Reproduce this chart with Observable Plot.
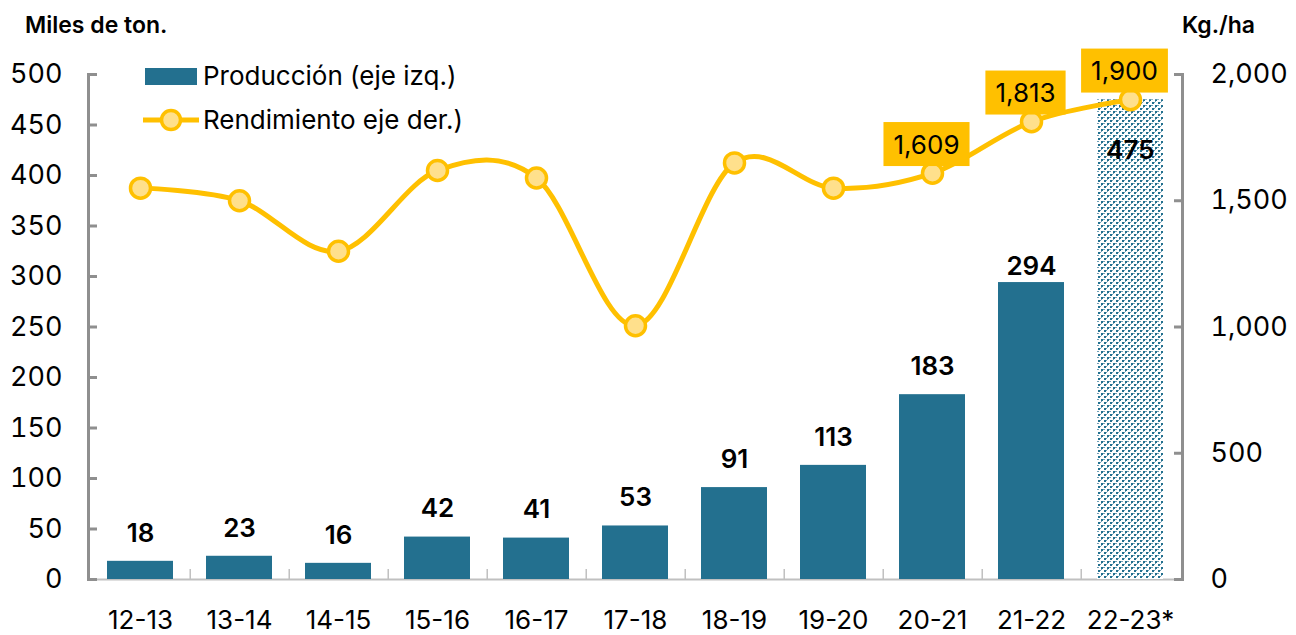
<!DOCTYPE html>
<html>
<head>
<meta charset="utf-8">
<script src="https://cdn.jsdelivr.net/npm/d3@7"></script>
<script src="https://cdn.jsdelivr.net/npm/@observablehq/plot@0.6"></script>
<style>
  body { margin: 0; background: #fff; font-family: Inter, "Noto Sans", sans-serif; }
  #wrap { position: relative; width: 1296px; height: 635px; overflow: hidden; }
  #chart { position: absolute; left: 0; top: 0; }
  .ttl { position: absolute; font-weight: 600; font-size: 23px; color: #000; line-height: 26px; }
  .lg { position: absolute; font-size: 26px; color: #000; line-height: 28px; white-space: nowrap; }
</style>
</head>
<body>
<div id="wrap">
  <div id="chart"></div>
  <div class="ttl" style="left:25px; top:12px;">Miles de ton.</div>
  <div class="ttl" style="left:1182px; top:12px;">Kg./ha</div>
  <div style="position:absolute; left:145px; top:68px; width:52px; height:17px; background:#23708f;"></div>
  <div class="lg" style="left:203px; top:62px;">Producción (eje izq.)</div>
  <svg style="position:absolute; left:140px; top:106px;" width="64" height="28">
    <line x1="3" y1="14" x2="59" y2="14" stroke="#FFC000" stroke-width="5"></line>
    <circle cx="31" cy="14" r="9.5" fill="#FFE08C" stroke="#FFC000" stroke-width="3.5"></circle>
  </svg>
  <div class="lg" style="left:203px; top:106px;">Rendimiento eje der.)</div>
</div>
<script>
// ---- data ----
const seasons = ["12-13", "13-14", "14-15", "15-16", "16-17", "17-18", "18-19", "19-20", "20-21", "21-22", "22-23*"];
const production = [18, 23, 16, 42, 41, 53, 91, 113, 183, 294, 475];      // miles de ton. (eje izq.)
const yieldKgHa = [1550, 1500, 1300, 1620, 1590, 1005, 1650, 1550, 1609, 1813, 1900]; // kg/ha (eje der.)
const projected = [false, false, false, false, false, false, false, false, false, false, true];
const boxedSeasons = ["20-21", "21-22", "22-23*"];
const leftTicks = [0, 50, 100, 150, 200, 250, 300, 350, 400, 450, 500];
const rightTicks = [0, 500, 1000, 1500, 2000];
const leftMax = 500, rightMax = 2000;
const ratio = rightMax / leftMax;

const table = seasons.map((s, i) => ({
  season: s,
  prod: production[i],
  yld: yieldKgHa[i],
  yScaled: yieldKgHa[i] / ratio,
  proj: projected[i],
  boxed: boxedSeasons.includes(s)
}));

const W = 1296, H = 635;
const mL = 88, mR = 114, mT = 74, mB = 56;
const padIn = 0.33, padOut = 0.165;
const step = (W - mL - mR) / (seasons.length - padIn + 2 * padOut);

const teal = "#23708f";
const gold = "#FFC000";
const axisGray = "#8f8f8f";
const fmt = d3.format(",");
const font = "Inter, 'Noto Sans', sans-serif";

const chart = Plot.plot({
  width: W,
  height: H,
  marginLeft: mL,
  marginRight: mR,
  marginTop: mT,
  marginBottom: mB,
  style: { fontFamily: font, fontSize: "26px", color: "#000", background: "#fff" },
  x: { domain: seasons, paddingInner: padIn, paddingOuter: padOut, label: null },
  y: { domain: [0, leftMax], label: null },
  marks: [
    // baseline and category separators
    Plot.ruleY([0], { stroke: "#c0c0c0", strokeWidth: 2 }),
    Plot.ruleX(table.slice(0, -1), { x: "season", dx: step / 2, y1: 0, y2: 10, stroke: "#c0c0c0", strokeWidth: 1.5 }),
    // bars
    Plot.barY(table.filter(d => !d.proj), { x: "season", y: "prod", fill: teal }),
    Plot.barY(table.filter(d => d.proj), { x: "season", y: "prod", fill: "url(#dotPattern)" }),
    // bar labels
    Plot.text(table.filter(d => !d.proj && d.season !== "21-22"), { x: "season", y: "prod", text: d => fmt(d.prod), dy: -28, fontSize: 26, fontWeight: 600, fill: "#000" }),
    Plot.text(table.filter(d => d.season === "21-22"), { x: "season", y: "prod", text: d => fmt(d.prod), dy: -16, fontSize: 26, fontWeight: 600, fill: "#000" }),
    Plot.text(table.filter(d => d.proj), { x: "season", y: "prod", text: d => fmt(d.prod), dy: 51, fontSize: 26, fontWeight: 600, fill: "#000" }),
    // axes lines
    Plot.frame({ anchor: "left", stroke: axisGray, strokeWidth: 3 }),
    Plot.frame({ anchor: "right", stroke: axisGray, strokeWidth: 3 }),
    Plot.axisY(leftTicks, { anchor: "left", tickSize: 9, dx: 9, tickPadding: 26, stroke: axisGray, strokeWidth: 3, fill: "#000", fontSize: 27, label: null }),
    Plot.axisY(rightTicks.map(v => v / ratio), { anchor: "right", tickSize: 9, dx: -9, tickPadding: 28, stroke: axisGray, strokeWidth: 3, fill: "#000", fontSize: 27, label: null, tickFormat: v => fmt(v * ratio) }),
    Plot.axisX({ tickSize: 0, tickPadding: 31, fill: "#000", fontSize: 26, label: null }),
    // yield line
    Plot.line(table, { x: "season", y: "yScaled", stroke: gold, strokeWidth: 5, curve: "cardinal", tension: 0 }),
    Plot.dot(table, { x: "season", y: "yScaled", r: 10, fill: "#FFE08C", stroke: gold, strokeWidth: 3.5 }),
    Plot.text(table.filter(d => d.boxed), { x: "season", y: "yScaled", text: d => fmt(d.yld), dy: -28, dx: -6, fontSize: 26, fill: "#000" })
  ]
});

document.getElementById("chart").appendChild(chart);

const ns = "http://www.w3.org/2000/svg";
// pattern for projected bar
const defs = document.createElementNS(ns, "defs");
defs.innerHTML = `<pattern id="dotPattern" width="6" height="6" patternUnits="userSpaceOnUse">
  <rect width="6" height="6" fill="#ffffff"></rect>
  <rect x="0" y="0" width="2" height="2" fill="${teal}"></rect>
  <rect x="3" y="3" width="2" height="2" fill="${teal}"></rect>
  <rect x="2" y="0" width="1" height="1" fill="#6f9fb5"></rect>
  <rect x="0" y="3" width="1" height="1" fill="#6f9fb5"></rect>
  <rect x="5" y="3" width="1" height="1" fill="#6f9fb5"></rect>
  <rect x="3" y="5" width="1" height="1" fill="#6f9fb5"></rect>
</pattern>`;
chart.insertBefore(defs, chart.firstChild);

// yellow boxes behind the yield labels
const boxedTexts = new Set(table.filter(d => d.boxed).map(d => fmt(d.yld)));
chart.querySelectorAll("text").forEach(t => {
  if (!boxedTexts.has(t.textContent.trim())) return;
  const b = t.getBBox();
  const padX = 10, h = 44;
  const r = document.createElementNS(ns, "rect");
  const tr = t.getAttribute("transform");
  if (tr) r.setAttribute("transform", tr);
  r.setAttribute("x", b.x - padX);
  r.setAttribute("y", b.y + b.height / 2 - h / 2);
  r.setAttribute("width", b.width + 2 * padX);
  r.setAttribute("height", h);
  r.setAttribute("fill", gold);
  t.parentNode.insertBefore(r, t);
});
</script>
</body>
</html>
